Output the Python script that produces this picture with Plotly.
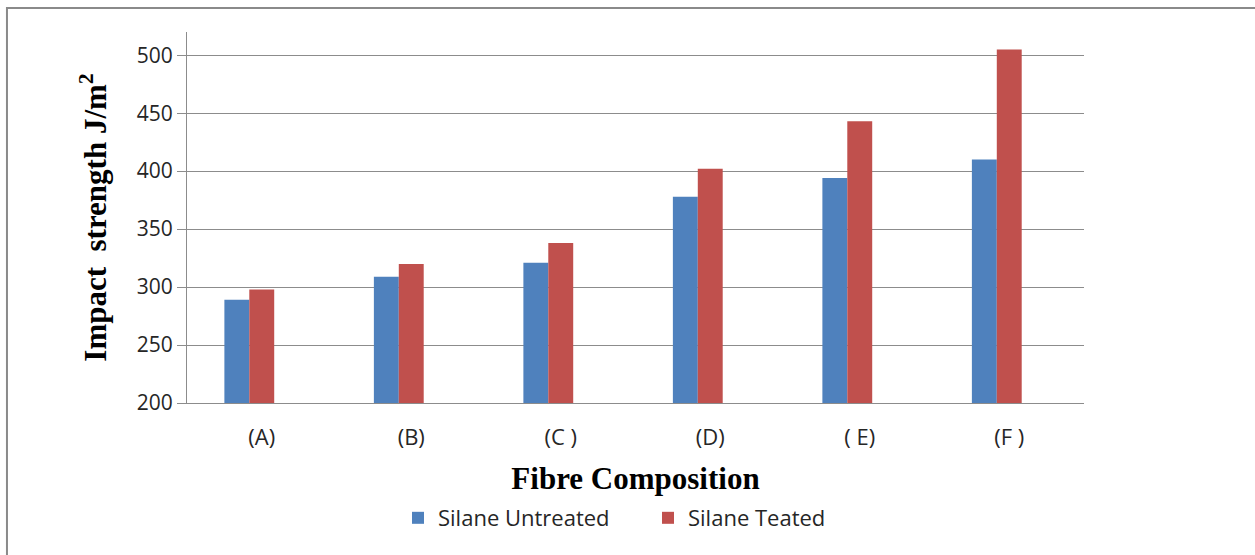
import plotly.graph_objects as go

# Impact strength of the fibre compositions, with and without silane treatment
categories = ["(A)", "(B)", "(C\u00a0)", "(D)", "(\u00a0E)", "(F\u00a0)"]
silane_untreated = [289, 309, 321, 378, 394, 410]
silane_treated = [298, 320, 338, 402, 443, 505]
y_ticks = [200, 250, 300, 350, 400, 450, 500]

BLUE = "#4F81BD"
RED = "#C0504D"
GRID = "#8C8C8C"
SANS = "Open Sans, Liberation Sans, sans-serif"
SERIF = "Liberation Serif, Times New Roman, serif"

fig = go.Figure()
# Clustered bars: each category holds three slots; the two series occupy the first two
fig.add_trace(go.Bar(
    x=categories, y=silane_untreated, name="Silane Untreated",
    marker=dict(color=BLUE, line=dict(width=0)),
    offset=-0.25, width=1 / 6,
))
fig.add_trace(go.Bar(
    x=categories, y=silane_treated, name="Silane Teated",
    marker=dict(color=RED, line=dict(width=0)),
    offset=-1 / 12, width=1 / 6,
))

fig.update_layout(
    width=1255, height=555,
    margin=dict(l=187, r=171, t=32, b=152),
    paper_bgcolor="white", plot_bgcolor="white",
    barmode="overlay",
    showlegend=True,
    legend=dict(
        orientation="h", x=(398 - 187) / 897, xanchor="left", y=-0.31, yanchor="middle",
        font=dict(family=SANS, size=22, color="#262626"),
        entrywidth=205, entrywidthmode="pixels",
        bgcolor="rgba(0,0,0,0)",
    ),
    xaxis=dict(
        type="category", range=[-0.5, 5.5],
        showgrid=False, showline=True, linecolor=GRID, linewidth=1,
        ticks="", tickfont=dict(family=SANS, size=22, color="#262626"), ticklabelstandoff=15,
        title=dict(text="<b>Fibre Composition</b>",
                   font=dict(family=SERIF, size=31, color="#000000"), standoff=16),
        fixedrange=True,
    ),
    yaxis=dict(
        range=[200, 520], tickvals=y_ticks,
        showgrid=True, gridcolor=GRID, gridwidth=1,
        showline=True, linecolor=GRID, linewidth=1,
        ticks="outside", ticklen=9, tickcolor=GRID,
        tickfont=dict(family=SANS, size=21, color="#262626"), zeroline=False,
        title=dict(text="<b>Impact\u00a0 strength J/m<sup>2</sup></b>",
                   font=dict(family=SERIF, size=31, color="#000000"), standoff=20),
        fixedrange=True,
    ),
    shapes=[dict(
        type="rect", xref="paper", yref="paper",
        x0=-0.2007, x1=1.4, y0=-0.6, y1=1.0646,
        line=dict(color="#8A8A8A", width=2), fillcolor="rgba(0,0,0,0)", layer="below",
    )],
)

fig.write_html("out.html")
